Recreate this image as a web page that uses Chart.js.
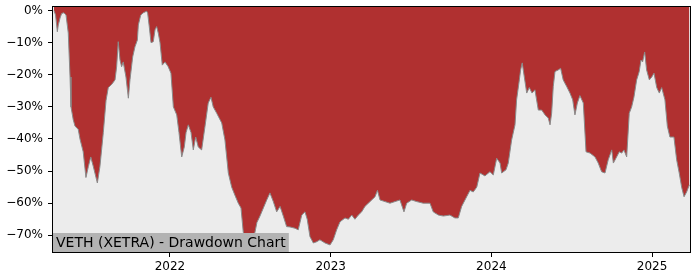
<!DOCTYPE html>
<html>
<head>
<meta charset="utf-8">
<script src="https://cdn.jsdelivr.net/npm/chart.js@4/dist/chart.umd.min.js"></script>
<style>
  html, body { margin: 0; padding: 0; background: #ffffff; }
  #wrap { width: 700px; height: 280px; }
</style>
</head>
<body>
<div id="wrap"><canvas id="c" width="700" height="280"></canvas></div>
<script>
// Dates as decimal years
const dates = [
  2021.278, 2021.288, 2021.299, 2021.305, 2021.316, 2021.326, 2021.340, 2021.353, 2021.367, 2021.378,
  2021.384, 2021.398, 2021.409, 2021.429, 2021.440, 2021.460, 2021.477, 2021.492, 2021.507, 2021.523,
  2021.548, 2021.564, 2021.585, 2021.602, 2021.616, 2021.637, 2021.658, 2021.668, 2021.678, 2021.689,
  2021.699, 2021.709, 2021.726, 2021.741, 2021.751, 2021.768, 2021.782, 2021.797, 2021.803, 2021.818,
  2021.834, 2021.855, 2021.861, 2021.871, 2021.882, 2021.896, 2021.907, 2021.917, 2021.927, 2021.938,
  2021.952, 2021.969, 2021.989, 2022.006, 2022.021, 2022.042, 2022.056, 2022.073, 2022.089, 2022.100,
  2022.114, 2022.131, 2022.145, 2022.160, 2022.176, 2022.197, 2022.218, 2022.238, 2022.255, 2022.269,
  2022.291, 2022.322, 2022.342, 2022.363, 2022.384, 2022.404, 2022.425, 2022.442, 2022.456, 2022.477,
  2022.498, 2022.512, 2022.529, 2022.541, 2022.560, 2022.581, 2022.602, 2022.622, 2022.643, 2022.664,
  2022.685, 2022.705, 2022.726, 2022.747, 2022.778, 2022.798, 2022.820, 2022.840, 2022.854, 2022.871,
  2022.892, 2022.913, 2022.933, 2022.965, 2022.996, 2023.016, 2023.037, 2023.058, 2023.089, 2023.110,
  2023.131, 2023.151, 2023.172, 2023.193, 2023.213, 2023.245, 2023.276, 2023.291, 2023.307, 2023.338,
  2023.369, 2023.400, 2023.431, 2023.456, 2023.473, 2023.504, 2023.535, 2023.576, 2023.618, 2023.638,
  2023.670, 2023.701, 2023.742, 2023.773, 2023.794, 2023.815, 2023.846, 2023.867, 2023.887, 2023.909,
  2023.929, 2023.960, 2023.991, 2024.012, 2024.033, 2024.054, 2024.064, 2024.091, 2024.105, 2024.126,
  2024.147, 2024.157, 2024.174, 2024.182, 2024.192, 2024.205, 2024.220, 2024.236, 2024.253, 2024.271,
  2024.292, 2024.313, 2024.334, 2024.354, 2024.365, 2024.375, 2024.385, 2024.396, 2024.416, 2024.431,
  2024.447, 2024.469, 2024.489, 2024.506, 2024.520, 2024.535, 2024.551, 2024.572, 2024.589, 2024.614,
  2024.645, 2024.665, 2024.686, 2024.707, 2024.727, 2024.749, 2024.759, 2024.775, 2024.796, 2024.811,
  2024.825, 2024.842, 2024.858, 2024.873, 2024.887, 2024.904, 2024.920, 2024.931, 2024.941, 2024.954,
  2024.966, 2024.983, 2024.998, 2025.012, 2025.029, 2025.045, 2025.060, 2025.080, 2025.095, 2025.111,
  2025.136, 2025.153, 2025.169, 2025.184, 2025.199, 2025.215, 2025.232
];
// Drawdown in percent
const drawdown = [
  0, -1.4, -6.6, -4.5, -2.3, -0.9, -0.7, -1.4, -7, -20.7,
  -30, -34, -36, -37, -40, -44, -52, -48.6, -45.6, -48.6,
  -53.7, -48.6, -38, -28, -24, -23, -21.6, -17.5, -9.7, -15.4,
  -17.5, -16, -20.7, -27.3, -21.6, -14.4, -11.3, -9.2, -4.5, -1.4,
  -0.7, -0.2, -0.8, -5, -10, -9.7, -6, -5, -7, -10,
  -17, -16, -17.5, -19.5, -30, -32.5, -38, -45.6, -42.5, -38,
  -35.6, -38, -43.4, -39.4, -42.5, -43.4, -36, -28.8, -27, -30,
  -32, -35, -40.3, -50.6, -55, -57.5, -60, -61.5, -69, -73,
  -74.5, -72, -69, -66, -64, -61.5, -59, -56.8, -59.5, -62.7,
  -61, -64, -67.3, -67.4, -67.8, -68.3, -63.7, -62.7, -65, -70.4,
  -72.4, -72, -71.4, -72.4, -73, -71.4, -68.3, -65.8, -64.6, -65,
  -63.7, -65, -63.7, -62.7, -61, -59.5, -58, -56, -59, -59.5,
  -60, -59.5, -59, -62.7, -60, -59, -59.5, -60, -60, -62.7,
  -63.7, -64, -63.7, -64.6, -64.6, -61, -58, -56, -56.5, -55,
  -50.6, -51.5, -50.2, -51.2, -46, -47.5, -50.6, -49.6, -47.5, -40.3,
  -35.6, -27.8, -21.6, -18.5, -16.3, -20.7, -25.7, -24, -25.7, -24.7,
  -31, -31, -32.5, -33.5, -35.6, -32, -23.7, -19, -18.5, -18,
  -21.6, -23.7, -25.7, -27.8, -32.5, -28.8, -26.5, -28.8, -44, -44.4,
  -45.6, -47.5, -50.2, -50.6, -46.5, -43.4, -47.5, -46, -44, -44.4,
  -43.4, -45.6, -32, -30, -27, -21.6, -19, -15.4, -16, -12.9,
  -18.5, -21.6, -20.7, -19.5, -24, -25.7, -24, -27.8, -36, -39.4,
  -39.4, -46.5, -50.6, -55, -58, -56.5, -54.3
];
const xTicks = [2022, 2023, 2024, 2025];
const yTicks = [-70, -60, -50, -40, -30, -20, -10, 0];
const titleText = 'VETH (XETRA) - Drawdown Chart';

const points = dates.map((d, i) => ({ x: d, y: drawdown[i] }));

const decor = {
  id: 'decor',
  beforeDatasetsDraw(chart) {
    const { ctx, chartArea: a } = chart;
    ctx.save();
    ctx.fillStyle = '#ececec';
    ctx.fillRect(a.left, a.top, a.right - a.left, a.bottom - a.top);
    ctx.restore();
  },
  afterDatasetsDraw(chart) {
    const { ctx, chartArea: a } = chart;
    ctx.save();
    ctx.font = '14px "DejaVu Sans"';
    const w = ctx.measureText(titleText).width;
    ctx.fillStyle = '#b3b3b3';
    ctx.fillRect(a.left, a.bottom - 19, w + 6, 19);
    ctx.fillStyle = '#000';
    ctx.textBaseline = 'alphabetic';
    ctx.fillText(titleText, a.left + 3, a.bottom - 5);
    ctx.restore();
  },
  afterDraw(chart) {
    const { ctx, chartArea: a } = chart;
    ctx.save();
    ctx.strokeStyle = '#000';
    ctx.lineWidth = 1;
    ctx.strokeRect(Math.round(a.left) - 0.5, Math.round(a.top) - 0.5,
      Math.round(a.right - a.left) + 1, Math.round(a.bottom - a.top) + 1);
    ctx.restore();
  }
};

new Chart(document.getElementById('c'), {
  type: 'line',
  data: {
    datasets: [{
      data: points,
      borderColor: '#8a8a8a',
      borderWidth: 1,
      backgroundColor: '#b03030',
      fill: 'end',
      pointRadius: 0,
      tension: 0
    }]
  },
  options: {
    responsive: false,
    animation: false,
    layout: { padding: { top: 7, right: 10, left: 0, bottom: 0 } },
    plugins: { legend: { display: false }, tooltip: { enabled: false } },
    scales: {
      x: {
        type: 'linear',
        min: 2021.272,
        max: 2025.236,
        afterBuildTicks: s => { s.ticks = xTicks.map(v => ({ value: v })); },
        afterFit: s => { s.height = 28; s.paddingLeft = 0; s.paddingRight = 0; },
        grid: { display: true, drawOnChartArea: false, drawTicks: true, tickLength: 5, color: '#000' },
        border: { display: true, color: '#000', width: 1 },
        ticks: {
          color: '#000',
          padding: 3,
          font: { family: '"DejaVu Sans"', size: 12 },
          maxRotation: 0,
          callback: v => String(v)
        }
      },
      y: {
        type: 'linear',
        min: -75.2,
        max: 1.1,
        afterBuildTicks: s => { s.ticks = yTicks.map(v => ({ value: v })); },
        afterFit: s => { s.width = 53; s.paddingTop = 0; s.paddingBottom = 0; },
        grid: { display: true, drawOnChartArea: false, drawTicks: true, tickLength: 5, color: '#000' },
        border: { display: true, color: '#000', width: 1 },
        ticks: {
          color: '#000',
          padding: 5,
          font: { family: '"DejaVu Sans"', size: 12 },
          callback: v => (v < 0 ? '\u2212' + Math.abs(v) : String(v)) + '%'
        }
      }
    }
  },
  plugins: [decor]
});
</script>
</body>
</html>
